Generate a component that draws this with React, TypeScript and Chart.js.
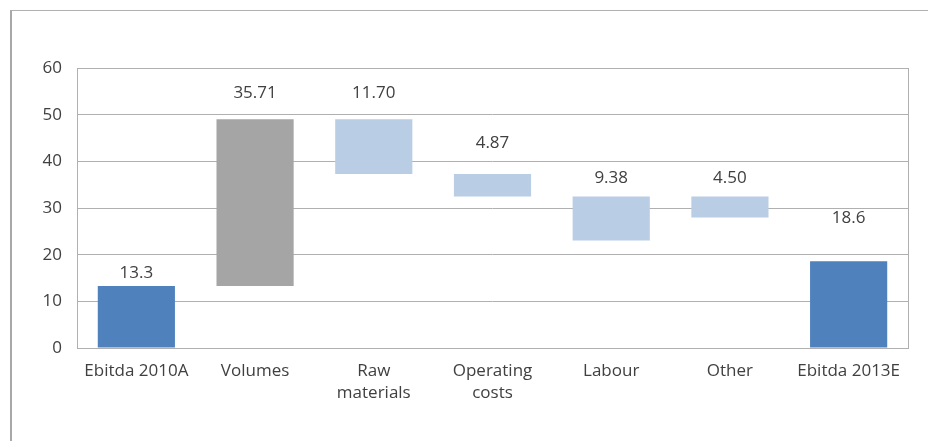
import React, { useEffect, useRef } from "react";
import { Chart, registerables } from "chart.js";

Chart.register(...registerables);

const categories: (string | string[])[] = [
  "Ebitda 2010A",
  "Volumes",
  ["Raw", "materials"],
  ["Operating", "costs"],
  "Labour",
  "Other",
  "Ebitda 2013E",
];
const barLow = [0, 13.3, 37.31, 32.44, 23.06, 27.94, 0];
const barHigh = [13.3, 49.01, 49.01, 37.31, 32.44, 32.44, 18.6];
const valueLabels = ["13.3", "35.71", "11.70", "4.87", "9.38", "4.50", "18.6"];
const labelAt = [16.1, 54.6, 54.6, 44.0, 36.3, 36.3, 27.9];
const barColors = ["#4F81BD", "#A5A5A5", "#B9CDE5", "#B9CDE5", "#B9CDE5", "#B9CDE5", "#4F81BD"];
const yTicks = [0, 10, 20, 30, 40, 50, 60];

const FONT = "'Open Sans', sans-serif";
const FSIZE = 17;

const labelPlugin = {
  id: "valueLabels",
  afterDatasetsDraw(chart: any) {
    const { ctx, scales } = chart;
    const meta = chart.getDatasetMeta(0);
    ctx.save();
    ctx.font = `${FSIZE}px ${FONT}`;
    ctx.fillStyle = "#404040";
    ctx.textAlign = "center";
    ctx.textBaseline = "middle";
    meta.data.forEach((bar: any, i: number) => {
      ctx.fillText(valueLabels[i], bar.x, scales.y.getPixelForValue(labelAt[i]));
    });
    ctx.restore();
  },
};

const framePlugin = {
  id: "plotFrame",
  afterDraw(chart: any) {
    const { ctx, chartArea } = chart;
    ctx.save();
    ctx.strokeStyle = "#B0B0B0";
    ctx.lineWidth = 1;
    ctx.strokeRect(
      Math.round(chartArea.left) + 0.5,
      Math.round(chartArea.top) + 0.5,
      Math.round(chartArea.right - chartArea.left),
      Math.round(chartArea.bottom - chartArea.top)
    );
    ctx.restore();
  },
};

export default function App() {
  const ref = useRef<HTMLCanvasElement>(null);
  useEffect(() => {
    if (!ref.current) return;
    const chart = new Chart(ref.current, {
      type: "bar",
      data: {
        labels: categories,
        datasets: [
          {
            data: barLow.map((lo, i) => [lo, barHigh[i]]) as any,
            backgroundColor: barColors,
            borderWidth: 0,
            barPercentage: 0.65,
            categoryPercentage: 1,
          },
        ],
      },
      options: {
        animation: false,
        responsive: false,
        maintainAspectRatio: false,
        layout: { padding: { top: 68, right: 20, left: 0, bottom: 0 } },
        plugins: { legend: { display: false }, tooltip: { enabled: false } },
        scales: {
          x: {
            grid: { display: false, drawTicks: false },
            border: { display: false },
            ticks: {
              color: "#404040",
              font: { family: FONT, size: FSIZE, lineHeight: 1.3 },
              padding: 12,
              maxRotation: 0,
              autoSkip: false,
            },
            afterFit: (s: any) => {
              s.height = 93;
            },
          },
          y: {
            min: 0,
            max: 60,
            afterBuildTicks: (s: any) => {
              s.ticks = yTicks.map((v) => ({ value: v }));
            },
            grid: { color: "#B0B0B0", drawTicks: false },
            border: { display: false },
            ticks: {
              color: "#404040",
              font: { family: FONT, size: FSIZE },
              padding: 15,
            },
            afterFit: (s: any) => {
              s.width = 77;
            },
          },
        },
      },
      plugins: [labelPlugin, framePlugin],
    });
    return () => chart.destroy();
  }, []);

  return (
    <div style={{ position: "absolute", left: 0, top: 0, width: 928, height: 441, background: "#fff", overflow: "hidden" }}>
      <div
        style={{
          position: "absolute",
          left: 10,
          top: 10,
          width: 940,
          height: 460,
          borderLeft: "2px solid #A8A8A8",
          borderTop: "1px solid #B0B0B0",
        }}
      />
      <canvas ref={ref} width={928} height={441} style={{ position: "absolute", left: 0, top: 0 }} />
    </div>
  );
}
